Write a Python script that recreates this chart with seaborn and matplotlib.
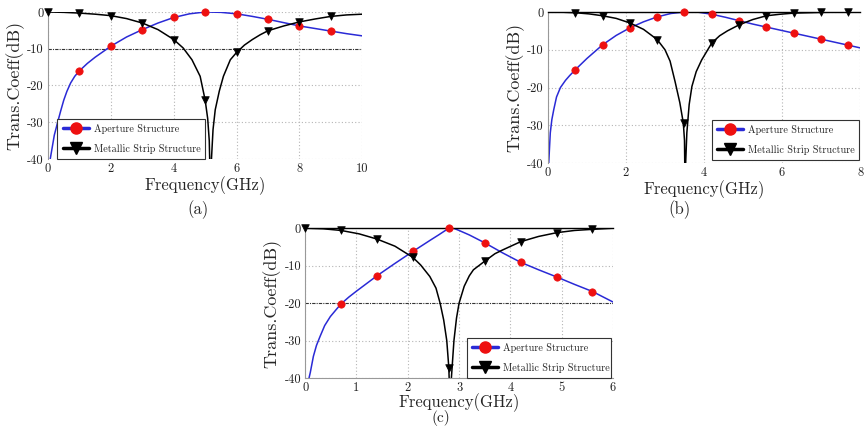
import numpy as np
import pandas as pd
import matplotlib
matplotlib.use("Agg")
import matplotlib.pyplot as plt
import seaborn as sns
from matplotlib.lines import Line2D

# ---------------- data ----------------
# panel (a)
a_ap_x = [0.07, 0.1, 0.2, 0.3, 0.4, 0.5, 0.6, 0.72, 0.85, 1, 1.25, 1.5, 2, 2.5, 3, 3.5, 4, 4.5, 5, 5.5, 6, 6.5, 7, 7.5, 8, 8.5, 9, 9.5, 10]
a_ap_y = [-40, -38.5, -33.5, -30.2, -27, -24, -21.6, -19.3, -17.5, -16, -14, -12.3, -9.3, -6.8, -4.8, -3, -1.5, -0.5, 0, -0.1, -0.5, -1.2, -2, -2.9, -3.8, -4.5, -5.2, -5.9, -6.5]
a_ap_mx = [1, 2, 3, 4, 5, 6, 7, 8, 9]
a_ap_my = [-16, -9.3, -4.8, -1.5, 0, -0.5, -2, -3.8, -5.2]
a_ms_x = [0, 0.5, 1, 1.5, 2, 2.5, 3, 3.5, 4, 4.3, 4.58, 4.84, 5, 5.08, 5.13, 5.165, 5.2, 5.25, 5.32, 5.45, 5.58, 5.8, 6, 6.25, 6.5, 6.75, 7, 7.5, 8, 8.5, 9, 9.5, 10]
a_ms_y = [0, -0.1, -0.3, -0.6, -1, -1.8, -3, -4.8, -7.5, -9.8, -13, -17.5, -24, -29, -35, -48, -40, -32, -26.6, -21.5, -17.5, -13, -11, -9, -7.5, -6.2, -5.1, -3.8, -2.7, -1.9, -1.2, -0.8, -0.6]
a_ms_mx = [0, 1, 2, 3, 4, 5, 6, 7, 8, 9]
a_ms_my = [0, -0.3, -1, -3, -7.5, -24, -11, -5.1, -2.7, -1.2]

# panel (b)
b_ap_x = [0.02, 0.06, 0.1, 0.15, 0.22, 0.32, 0.45, 0.56, 0.7, 1.0, 1.4, 1.75, 2.1, 2.45, 2.8, 3.15, 3.5, 3.85, 4.2, 4.55, 4.9, 5.25, 5.6, 5.95, 6.3, 6.65, 7.0, 7.35, 7.7, 8]
b_ap_y = [-40, -32, -28.5, -25.8, -22.5, -20, -18.1, -16.8, -15.3, -12.3, -8.7, -6.2, -4.2, -2.6, -1.3, -0.4, 0, -0.05, -0.6, -1.4, -2.3, -3.2, -4.0, -4.8, -5.6, -6.4, -7.2, -8.0, -8.8, -9.5]
b_ap_mx = [0.7, 1.4, 2.1, 2.8, 3.5, 4.2, 4.9, 5.6, 6.3, 7.0, 7.7]
b_ap_my = [-15.3, -8.7, -4.2, -1.3, 0, -0.6, -2.3, -4.0, -5.6, -7.2, -8.8]
b_ms_x = [0, 0.35, 0.7, 1.05, 1.4, 1.75, 2.1, 2.45, 2.8, 3.0, 3.13, 3.26, 3.38, 3.47, 3.5, 3.515, 3.53, 3.56, 3.62, 3.69, 3.8, 3.94, 4.05, 4.2, 4.4, 4.6, 4.9, 5.25, 5.6, 5.95, 6.3, 7, 7.7, 8]
b_ms_y = [0, -0.05, -0.2, -0.5, -1.0, -1.7, -2.9, -4.6, -7.3, -10, -13, -18.5, -24, -29.4, -34, -48, -40, -32, -24.5, -19.7, -15.8, -12.7, -10.8, -8.2, -6.3, -5, -3.4, -2, -1.0, -0.6, -0.3, -0.1, 0, 0]
b_ms_mx = [0.7, 1.4, 2.1, 2.8, 3.5, 4.2, 4.9, 5.6, 6.3, 7.0, 7.7]
b_ms_my = [-0.2, -1.0, -2.9, -7.3, -29.4, -8.2, -3.4, -1.0, -0.3, -0.1, 0]

# panel (c)
c_ap_x = [0.075, 0.1, 0.16, 0.22, 0.29, 0.38, 0.49, 0.6, 0.7, 0.85, 1.0, 1.4, 1.75, 2.1, 2.45, 2.6, 2.7, 2.8, 2.9, 3.0, 3.2, 3.5, 3.85, 4.2, 4.55, 4.9, 5.25, 5.6, 6]
c_ap_y = [-40, -38.5, -34.2, -31.3, -28.9, -26, -23.6, -21.8, -20.2, -18.4, -16.8, -12.7, -9.4, -6.2, -3.1, -1.8, -0.9, 0, -0.05, -0.6, -1.8, -3.9, -6.6, -9.1, -11.1, -13, -15, -16.9, -19.7]
c_ap_mx = [0.7, 1.4, 2.1, 2.8, 3.5, 4.2, 4.9, 5.6]
c_ap_my = [-20.2, -12.7, -6.2, 0, -3.9, -9.1, -13, -16.9]
c_ms_x = [0, 0.35, 0.7, 1.05, 1.4, 1.75, 2.1, 2.25, 2.43, 2.55, 2.63, 2.7, 2.76, 2.8, 2.825, 2.85, 2.9, 2.95, 3.0, 3.1, 3.2, 3.28, 3.5, 3.7, 3.85, 4.2, 4.55, 4.9, 5.25, 5.6, 6]
c_ms_y = [0, -0.15, -0.6, -1.5, -2.9, -4.8, -7.8, -9.8, -12.9, -16, -20, -24.5, -30, -37.2, -48, -40, -30, -24, -20, -15.5, -12.7, -11.1, -8.8, -6.8, -5.8, -3.6, -2.2, -1.2, -0.6, -0.3, 0]
c_ms_mx = [0, 0.7, 1.4, 2.1, 2.8, 3.5, 4.2, 4.9, 5.6]
c_ms_my = [0, -0.6, -2.9, -7.8, -37.2, -8.8, -3.6, -1.2, -0.3]

y_ticks = [0, -10, -20, -30, -40]
y_tick_labels = ["0", "-10", "-20", "-30", "-40"]
series_names = ["Aperture Structure", "Metallic Strip Structure"]
x_label = "Frequency(GHz)"
y_label = "Trans.Coeff(dB)"

# ---------------- style ----------------
sns.set_theme(style="white")
plt.rcParams["font.family"] = ["cmr10", "DejaVu Serif"]
plt.rcParams["axes.unicode_minus"] = False
plt.rcParams["axes.formatter.use_mathtext"] = True

BLUE = "#2a2ad6"
RED = "#ee1010"

fig = plt.figure(figsize=(8.67, 4.28), dpi=100)

panels = [
    dict(rect=[0.0554, 0.6285, 0.3625, 0.3435], xmax=10, xticks=[0, 2, 4, 6, 8, 10],
         ap=(a_ap_x, a_ap_y, a_ap_mx, a_ap_my), ms=(a_ms_x, a_ms_y, a_ms_mx, a_ms_my),
         dark=-10, top=False, bottom=False, leg=(0.03, 0.0, 0.47, 0.31), tag="(a)",
         tagxy=(198 / 867, 1 - 210 / 428), tagva="center", tagsize=12, xpad=1),
    dict(rect=[0.632, 0.619, 0.360, 0.353], xmax=8, xticks=[0, 2, 4, 6, 8],
         ap=(b_ap_x, b_ap_y, b_ap_mx, b_ap_my), ms=(b_ms_x, b_ms_y, b_ms_mx, b_ms_my),
         dark=None, top=True, bottom=False, leg=(0.525, 0.02, 0.47, 0.34), tag="(b)",
         tagxy=(680 / 867, 1 - 210 / 428), tagva="center", tagsize=12, xpad=1),
    dict(rect=[0.352, 0.1168, 0.355, 0.350], xmax=6, xticks=[0, 1, 2, 3, 4, 5, 6],
         ap=(c_ap_x, c_ap_y, c_ap_mx, c_ap_my), ms=(c_ms_x, c_ms_y, c_ms_mx, c_ms_my),
         dark=-20, top=True, bottom=True, leg=(0.525, 0.0, 0.47, 0.31), tag="(c)",
         tagxy=(441 / 867, 2 / 428), tagva="bottom", tagsize=11, xpad=-1),
]

for p in panels:
    ax = fig.add_axes(p["rect"])
    ax.set_xlim(0, p["xmax"])
    ax.set_ylim(-40, 0)

    ax.grid(True, linestyle=(0, (1, 2)), color="#b5b5b5", linewidth=0.8)
    ax.set_axisbelow(True)

    cx, cy, mx, my = p["ap"]
    sns.lineplot(x=cx, y=cy, ax=ax, color=BLUE, linewidth=1.1, sort=False, estimator=None, zorder=2)
    sns.scatterplot(x=mx, y=my, ax=ax, color=RED, marker="o", s=28, edgecolor=RED, linewidth=0.5,
                    zorder=4, clip_on=False)
    cx, cy, mx, my = p["ms"]
    sns.lineplot(x=cx, y=cy, ax=ax, color="black", linewidth=1.1, sort=False, estimator=None, zorder=2)
    sns.scatterplot(x=mx, y=my, ax=ax, color="black", marker="v", s=30, edgecolor="black", linewidth=0.5,
                    zorder=4, clip_on=False)

    ax.set_xticks(p["xticks"])
    ax.set_xticklabels([str(t) for t in p["xticks"]])
    ax.set_yticks(y_ticks)
    ax.set_yticklabels(y_tick_labels)
    ax.tick_params(axis="both", length=0, labelsize=9, pad=3, colors="#222222")

    if p["dark"] is not None:
        for val, gl in zip(y_ticks, ax.yaxis.get_gridlines()):
            if val == p["dark"]:
                gl.set_color("#333333")
                gl.set_linestyle((0, (3, 1, 1, 1)))
                gl.set_linewidth(0.8)

    ax.spines["right"].set_visible(False)
    ax.spines["left"].set_color("#999999")
    ax.spines["left"].set_linewidth(0.8)
    if p["bottom"]:
        ax.spines["bottom"].set_color("#999999")
        ax.spines["bottom"].set_linewidth(0.8)
    else:
        ax.spines["bottom"].set_visible(False)
    if p["top"]:
        ax.spines["top"].set_color("black")
        ax.spines["top"].set_linewidth(1.0)
    else:
        ax.spines["top"].set_visible(False)

    ax.set_xlabel(x_label, fontsize=12, labelpad=p["xpad"])
    ax.set_ylabel(y_label, fontsize=13, labelpad=2)

    handles = [
        Line2D([], [], color=BLUE, lw=2.5, marker="o", markersize=8, markerfacecolor=RED, markeredgecolor=RED),
        Line2D([], [], color="black", lw=2.5, marker="v", markersize=8, markerfacecolor="black", markeredgecolor="black"),
    ]
    leg = ax.legend(handles, series_names, loc="lower left", bbox_to_anchor=p["leg"], mode="expand",
                    fontsize=7.3, frameon=True, fancybox=False, borderpad=0.5, labelspacing=1.0,
                    handlelength=2.6, handletextpad=0.5, borderaxespad=0)
    leg.get_frame().set_edgecolor("#333333")
    leg.get_frame().set_linewidth(0.8)
    leg.get_frame().set_facecolor("white")
    leg.get_frame().set_alpha(1)

    fig.text(p["tagxy"][0], p["tagxy"][1], p["tag"], ha="center", va=p["tagva"], fontsize=p["tagsize"])

fig.savefig("out.png", dpi=100)
